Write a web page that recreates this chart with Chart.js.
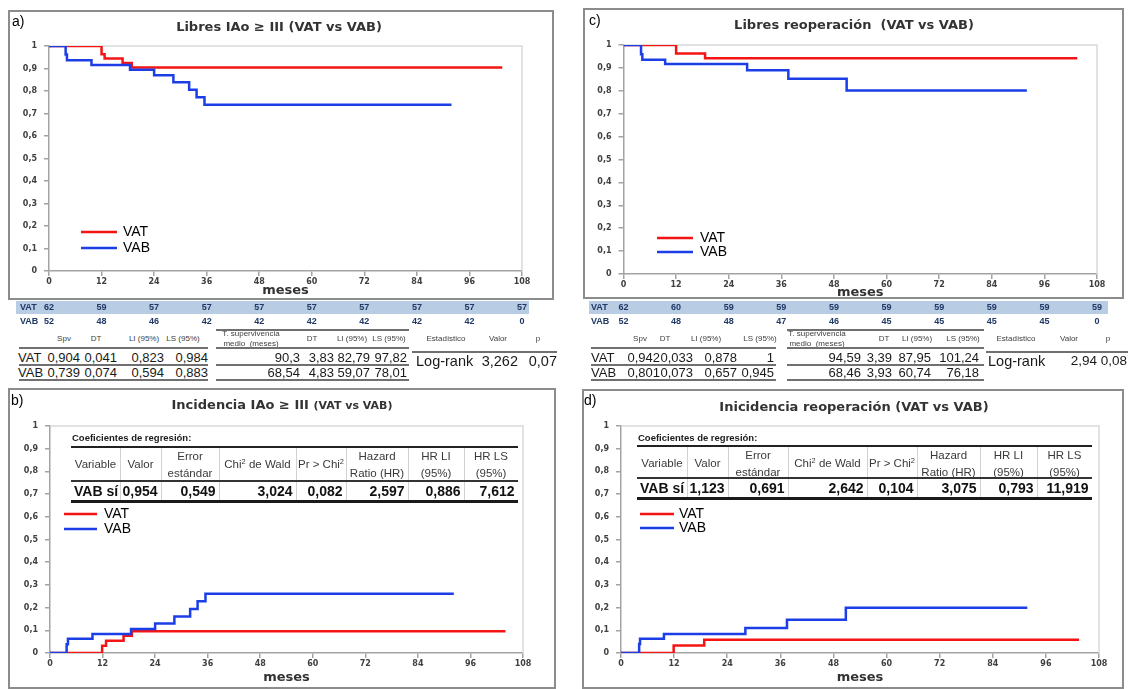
<!DOCTYPE html>
<html lang="es">
<head>
<meta charset="utf-8">
<title>Supervivencia e incidencia: VAT vs VAB</title>
<script src="https://cdn.jsdelivr.net/npm/chart.js@4.4.1/dist/chart.umd.min.js"></script>
<style>
  html, body { margin: 0; padding: 0; background: #fff; }
  #fig { position: relative; width: 1128px; height: 689px; overflow: hidden; background: #fff;
         font-family: "Liberation Sans", Arial, sans-serif; }
  #fig canvas { position: absolute; }
  .t { position: absolute; white-space: pre; }
  .t sup { font-size: 65%; vertical-align: 0.5em; line-height: 0; }
</style>
</head>
<body>
<div id="fig">
  <canvas id="cA" width="564" height="330" style="left:0;top:0;width:564px;height:330px"></canvas>
  <canvas id="cC" width="553" height="330" style="left:575px;top:0;width:553px;height:330px"></canvas>
  <canvas id="cB" width="564" height="304" style="left:0;top:385px;width:564px;height:304px"></canvas>
  <canvas id="cD" width="553" height="304" style="left:575px;top:385px;width:553px;height:304px"></canvas>
</div>
<script>
// ---------- data ----------
const groups = ['VAT', 'VAB'];
const monthTicks = [0, 12, 24, 36, 48, 60, 72, 84, 96, 108];

// a) free from aortic insufficiency >= III (Kaplan-Meier)
const tVATa = [0, 12, 12.7, 16.8, 18.9, 103.5];
const sVATa = [1, 0.963, 0.945, 0.925, 0.904, 0.904];
const tVABa = [0, 3.8, 4.1, 9.7, 18.5, 24.0, 28.4, 32.0, 33.7, 35.5, 91.9];
const sVABa = [1, 0.962, 0.937, 0.916, 0.894, 0.870, 0.839, 0.806, 0.772, 0.739, 0.739];

// c) free from reoperation (Kaplan-Meier)
const tVATc = [0, 12, 18.6, 103.5];
const sVATc = [1, 0.963, 0.942, 0.942];
const tVABc = [0, 4.0, 4.3, 9.5, 28.2, 37.6, 50.9, 92.0];
const sVABc = [1, 0.960, 0.936, 0.917, 0.890, 0.853, 0.801, 0.801];

// b) cumulative incidence of aortic insufficiency >= III
const tVATb = [0, 11.9, 12.8, 16.8, 18.7, 104];
const iVATb = [0, 0.032, 0.054, 0.076, 0.096, 0.096];
const tVABb = [0, 3.8, 4.1, 9.7, 18.5, 24.0, 28.4, 32.0, 33.7, 35.5, 92.2];
const iVABb = [0, 0.038, 0.063, 0.084, 0.106, 0.130, 0.161, 0.194, 0.228, 0.261, 0.261];

// d) cumulative incidence of reoperation
const tVATd = [0, 11.9, 18.8, 103.5];
const iVATd = [0, 0.033, 0.058, 0.058];
const tVABd = [0, 4.1, 4.3, 9.7, 28.1, 37.5, 50.8, 91.8];
const iVABd = [0, 0.040, 0.063, 0.084, 0.110, 0.146, 0.199, 0.199];

// numbers at risk
const riskVATa = [62, 59, 57, 57, 57, 57, 57, 57, 57, 57];
const riskVABa = [52, 48, 46, 42, 42, 42, 42, 42, 42, 0];
const riskVATc = [62, 60, 59, 59, 59, 59, 59, 59, 59, 59];
const riskVABc = [52, 48, 48, 47, 46, 45, 45, 45, 45, 0];

// summary tables
const survHead = ['Spv', 'DT', 'LI (95%)', 'LS (95%)'];
const meanHead = ['DT', 'LI (95%)', 'LS (95%)'];
const testHead = ['Estadístico', 'Valor', 'p'];
const survVATa = ['0,904', '0,041', '0,823', '0,984'];
const survVABa = ['0,739', '0,074', '0,594', '0,883'];
const meanVATa = ['90,3', '3,83', '82,79', '97,82'];
const meanVABa = ['68,54', '4,83', '59,07', '78,01'];
const logRankA = ['3,262', '0,07'];
const survVATc = ['0,942', '0,033', '0,878', '1'];
const survVABc = ['0,801', '0,073', '0,657', '0,945'];
const meanVATc = ['94,59', '3,39', '87,95', '101,24'];
const meanVABc = ['68,46', '3,93', '60,74', '76,18'];
const logRankC = ['2,94', '0,08'];

const regHead = [['Variable'], ['Valor'], ['Error', 'estándar'], ['Chi<sup>2</sup> de Wald'],
                 ['Pr &gt; Chi<sup>2</sup>'], ['Hazard', 'Ratio (HR)'], ['HR LI', '(95%)'], ['HR LS', '(95%)']];
const regRowB = ['VAB sí', '0,954', '0,549', '3,024', '0,082', '2,597', '0,886', '7,612'];
const regRowD = ['VAB sí', '1,123', '0,691', '2,642', '0,104', '3,075', '0,793', '11,919'];

// ---------- styling ----------
const RED = '#f51414';
const BLUE = '#1c3ee6';
const AXIS = '#a3a3a3';
const fig = document.getElementById('fig');

// ---------- html helpers ----------
function txt(s, x, y, o = {}) {
  const el = document.createElement('div');
  el.className = 't';
  const size = o.size || 14;
  const lh = Math.round(size * 1.3);
  el.style.font = `${o.weight || 'normal'} ${size}px ${o.family || '"Liberation Sans", Arial, sans-serif'}`;
  el.style.lineHeight = lh + 'px';
  el.style.color = o.color || '#000';
  el.style.top = (y - lh / 2) + 'px';
  el.style.left = x + 'px';
  if (o.align === 'center') el.style.transform = 'translateX(-50%)';
  if (o.align === 'right') el.style.transform = 'translateX(-100%)';
  if (o.html) el.innerHTML = s; else el.textContent = s;
  fig.appendChild(el);
  return el;
}
function hline(x1, x2, y, w, c) {
  const el = document.createElement('div');
  el.style.cssText = `position:absolute;left:${x1}px;top:${y - w / 2}px;width:${x2 - x1}px;height:${w}px;background:${c}`;
  fig.appendChild(el);
}
function vline(x, y1, y2, w, c) {
  const el = document.createElement('div');
  el.style.cssText = `position:absolute;left:${x - w / 2}px;top:${y1}px;width:${w}px;height:${y2 - y1}px;background:${c}`;
  fig.appendChild(el);
}
function frame(x1, y1, x2, y2) {
  const el = document.createElement('div');
  el.style.cssText = `position:absolute;box-sizing:border-box;left:${x1 - 1}px;top:${y1 - 1}px;` +
    `width:${x2 - x1 + 2}px;height:${y2 - y1 + 2}px;border:2px solid #8c8c8c`;
  fig.appendChild(el);
}

// ---------- chart plugin: plot border, axis title, legend, numbers at risk ----------
const decor = {
  id: 'decor',
  beforeDatasetsDraw(chart) {
    const { ctx, chartArea: a } = chart;
    ctx.save();
    ctx.strokeStyle = '#d9d9d9';
    ctx.lineWidth = 1.5;
    ctx.beginPath();
    ctx.moveTo(a.left, a.top);
    ctx.lineTo(a.right, a.top);
    ctx.lineTo(a.right, a.bottom);
    ctx.stroke();
    ctx.restore();
  },
  afterDraw(chart, args, o) {
    const { ctx, chartArea: a } = chart;
    ctx.save();
    ctx.textBaseline = 'middle';
    // x axis title
    ctx.font = 'bold 13px "DejaVu Sans"';
    ctx.fillStyle = '#333';
    ctx.textAlign = 'center';
    ctx.fillText('meses', (a.left + a.right) / 2, o.axisTitleY);
    // legend
    chart.data.datasets.forEach((ds, i) => {
      const y = o.legend.y[i];
      ctx.strokeStyle = ds.borderColor;
      ctx.lineWidth = 2.5;
      ctx.beginPath();
      ctx.moveTo(o.legend.x, y);
      ctx.lineTo(o.legend.x + o.legend.len, y);
      ctx.stroke();
      ctx.font = '14px "Liberation Sans"';
      ctx.fillStyle = '#000';
      ctx.textAlign = 'left';
      ctx.fillText(ds.label, o.legend.textX, y + 0.5);
    });
    // numbers at risk under the x axis
    if (o.risk) {
      const r = o.risk;
      const xs = chart.scales.x;
      ctx.fillStyle = '#b8cce4';
      ctx.fillRect(r.band[0], r.bandY[0], r.band[1] - r.band[0], r.bandY[1] - r.bandY[0]);
      ctx.font = 'bold 9px "Liberation Sans"';
      ctx.fillStyle = '#1f3864';
      r.rows.forEach((row, k) => {
        const y = r.rowY[k];
        ctx.textAlign = 'left';
        ctx.fillText(groups[k], r.labelX, y);
        ctx.textAlign = 'center';
        row.forEach((n, j) => ctx.fillText(String(n), xs.getPixelForValue(monthTicks[j]), y));
      });
    }
    ctx.restore();
  }
};

function pair(ts, vs) { return ts.map((t, i) => ({ x: t, y: vs[i] })); }
function yFmt(v) {
  if (Math.abs(v) < 1e-9) return '0';
  if (Math.abs(v - 1) < 1e-9) return '1';
  return v.toFixed(1).replace('.', ',');
}

function kmChart(id, tA, vA, tB, vB, lay) {
  const tickFont = { family: 'DejaVu Sans', size: 8, weight: 'bold' };
  const common = { borderWidth: 2.5, pointRadius: 0, stepped: true, fill: false, tension: 0 };
  return new Chart(document.getElementById(id), {
    type: 'line',
    data: {
      datasets: [
        Object.assign({ label: groups[0], data: pair(tA, vA), borderColor: RED, order: 1 }, common),
        Object.assign({ label: groups[1], data: pair(tB, vB), borderColor: BLUE, order: 0 }, common)
      ]
    },
    options: {
      responsive: false,
      animation: false,
      events: [],
      layout: { padding: { left: 0, top: lay.top, right: lay.right, bottom: lay.bottom } },
      scales: {
        x: {
          type: 'linear', min: 0, max: 108,
          afterFit: s => { s.height = 20; },
          ticks: { stepSize: 12, autoSkip: false, maxRotation: 0, padding: 1, font: tickFont, color: '#404040' },
          grid: { drawOnChartArea: false, drawTicks: true, tickLength: 5, color: AXIS, lineWidth: 1.5 },
          border: { color: AXIS, width: 1.5 }
        },
        y: {
          min: 0, max: 1,
          afterFit: s => { s.width = lay.yWidth; },
          ticks: { stepSize: 0.1, padding: 7, font: tickFont, color: '#404040', callback: yFmt },
          grid: { drawOnChartArea: false, drawTicks: true, tickLength: 5, color: AXIS, lineWidth: 1.5 },
          border: { color: AXIS, width: 1.5 }
        }
      },
      plugins: {
        legend: { display: false },
        tooltip: { enabled: false },
        decor: { axisTitleY: lay.axisTitleY, legend: lay.legend, risk: lay.risk }
      }
    },
    plugins: [decor]
  });
}

// ---------- charts ----------
kmChart('cA', tVATa, sVATa, tVABa, sVABa, {
  yWidth: 49, top: 46, right: 42, bottom: 39, axisTitleY: 291,
  legend: { x: 81, len: 36, textX: 123, y: [232, 248] },
  risk: { band: [16, 529], bandY: [301, 314], rowY: [308, 322], labelX: 20, rows: [riskVATa, riskVABa] }
});
kmChart('cC', tVATc, sVATc, tVABc, sVABc, {
  yWidth: 48.5, top: 45, right: 31, bottom: 36, axisTitleY: 293,
  legend: { x: 82, len: 36, textX: 125, y: [238, 252] },
  risk: { band: [14, 533], bandY: [301, 314], rowY: [308, 322], labelX: 16, rows: [riskVATc, riskVABc] }
});
kmChart('cB', tVATb, iVATb, tVABb, iVABb, {
  yWidth: 50, top: 41, right: 41, bottom: 16, axisTitleY: 293,
  legend: { x: 64, len: 33, textX: 104, y: [129, 144] }
});
kmChart('cD', tVATd, iVATd, tVABd, iVABd, {
  yWidth: 46, top: 41, right: 29, bottom: 16, axisTitleY: 293,
  legend: { x: 65, len: 34, textX: 104, y: [129, 143] }
});

// ---------- frames, panel letters, titles ----------
frame(9, 11, 553, 299);
frame(584, 9, 1123, 298);
frame(9, 389, 555, 688);
frame(583, 390, 1123, 688);

const titleFont = { size: 13, weight: 'bold', family: '"DejaVu Sans", Verdana, sans-serif', color: '#333', align: 'center' };
txt('a)', 12, 21, { size: 14 });
txt('c)', 589, 20, { size: 14 });
txt('b)', 11, 400, { size: 14 });
txt('d)', 584, 400, { size: 14 });
txt('Libres IAo ≥ III (VAT vs VAB)', 279, 26, titleFont);
txt('Libres reoperación  (VAT vs VAB)', 854, 24, titleFont);
txt('Incidencia IAo ≥ III <span style="font-size:11px">(VAT vs VAB)</span>', 282, 404, Object.assign({ html: true }, titleFont));
txt('Inicidencia reoperación (VAT vs VAB)', 854, 406, titleFont);

// ---------- survival summary tables under the top panels ----------
function statsBlock(L, survVAT, survVAB, meanVAT, meanVAB, lr) {
  const hs = { size: 8, color: '#404040', align: 'center' };
  const vs = { size: 13, color: '#1a1a1a', align: 'right' };
  const lc = '#707070';
  // survival at end of follow-up
  survHead.forEach((h, i) => txt(h, L.survHeadX[i], L.headY, hs));
  [survVAT, survVAB].forEach((vals, r) => {
    txt(groups[r], L.rowLabelX, L.rowY[r], { size: 13, color: '#1a1a1a' });
    vals.forEach((v, i) => txt(v, L.survValX[i], L.rowY[r], vs));
  });
  L.lineY.forEach(y => hline(L.survLine[0], L.survLine[1], y, 1.5, lc));
  // mean survival time
  hline(L.meanLine[0], L.meanLine[1], L.meanTopY, 1.5, lc);
  txt('T. supervivencia', L.meanTitleX, L.meanTitleY[0], hs);
  txt('medio  (meses)', L.meanTitleX, L.meanTitleY[1], hs);
  meanHead.forEach((h, i) => txt(h, L.meanHeadX[i], L.headY, hs));
  [meanVAT, meanVAB].forEach((vals, r) => vals.forEach((v, i) => txt(v, L.meanValX[i], L.rowY[r], vs)));
  L.lineY.forEach(y => hline(L.meanLine[0], L.meanLine[1], y, 1.5, lc));
  // log-rank test
  testHead.forEach((h, i) => txt(h, L.lrHeadX[i], L.headY, hs));
  hline(L.lrLine[0], L.lrLine[1], L.lrLineY, 1.5, lc);
  txt('Log-rank', L.lrLabelX, L.lrY, { size: 14.5, color: '#1a1a1a' });
  lr.forEach((v, i) => txt(v, L.lrValX[i], L.lrY, Object.assign({}, vs, { size: L.lrSize })));
}

statsBlock({
  headY: 339, rowY: [357, 372], lineY: [348, 365, 380], rowLabelX: 18,
  survHeadX: [64, 96, 144, 183], survValX: [80, 117, 164, 208], survLine: [19, 208],
  meanTopY: 330, meanTitleX: 251, meanTitleY: [334, 344], meanHeadX: [312, 352, 389],
  meanValX: [300, 334, 370, 407], meanLine: [216, 409],
  lrHeadX: [446, 498, 538], lrLineY: 352, lrLine: [412, 557], lrLabelX: 416, lrY: 361,
  lrValX: [518, 557], lrSize: 14.5
}, survVATa, survVABa, meanVATa, meanVABa, logRankA);

statsBlock({
  headY: 339, rowY: [357, 372], lineY: [348, 365, 380], rowLabelX: 591,
  survHeadX: [640, 665, 706, 760], survValX: [660, 693, 737, 774], survLine: [591, 776],
  meanTopY: 330, meanTitleX: 817, meanTitleY: [334, 344], meanHeadX: [884, 917, 963],
  meanValX: [861, 892, 931, 979], meanLine: [787, 984],
  lrHeadX: [1016, 1069, 1108], lrLineY: 352, lrLine: [986, 1128], lrLabelX: 988, lrY: 361,
  lrValX: [1097, 1127], lrSize: 13.5
}, survVATc, survVABc, meanVATc, meanVABc, logRankC);

// ---------- Cox regression tables inside the bottom panels ----------
function regTable(edges, L, row) {
  txt('Coeficientes de regresión:', L.titleX, L.titleY, { size: 9.5, weight: 'bold', color: '#1a1a1a' });
  const x1 = edges[0], x2 = edges[edges.length - 1];
  for (let i = 1; i < edges.length - 1; i++) vline(edges[i], L.top + 1, L.bot - 1, 1, '#d2d2d2');
  hline(x1, x2, L.top, 2.2, '#222');
  hline(x1, x2, L.mid, 1.5, '#333');
  hline(x1, x2, L.bot, 3, '#1a1a1a');
  const hs = { size: 11.5, color: '#3a3a3a', align: 'center', html: true };
  regHead.forEach((lines, i) => {
    const cx = (edges[i] + edges[i + 1]) / 2;
    if (lines.length === 1) txt(lines[0], cx, L.single, hs);
    else lines.forEach((s, k) => txt(s, cx, L.two[k], hs));
  });
  row.forEach((v, i) => {
    if (i === 0) txt(v, edges[0] + 3, L.data, { size: 14, weight: 'bold', color: '#111' });
    else txt(v, edges[i + 1] - 3.5, L.data, { size: 14, weight: 'bold', color: '#111', align: 'right' });
  });
}

regTable([71, 120, 161, 219, 296, 346, 408, 464, 518],
  { titleX: 72, titleY: 438, top: 447, mid: 481, bot: 501, single: 464, two: [456, 473], data: 491 }, regRowB);
regTable([637, 687, 728, 788, 867, 917, 980, 1037, 1092],
  { titleX: 638, titleY: 438, top: 446, mid: 478, bot: 498, single: 463, two: [455, 472], data: 488 }, regRowD);
</script>
</body>
</html>
